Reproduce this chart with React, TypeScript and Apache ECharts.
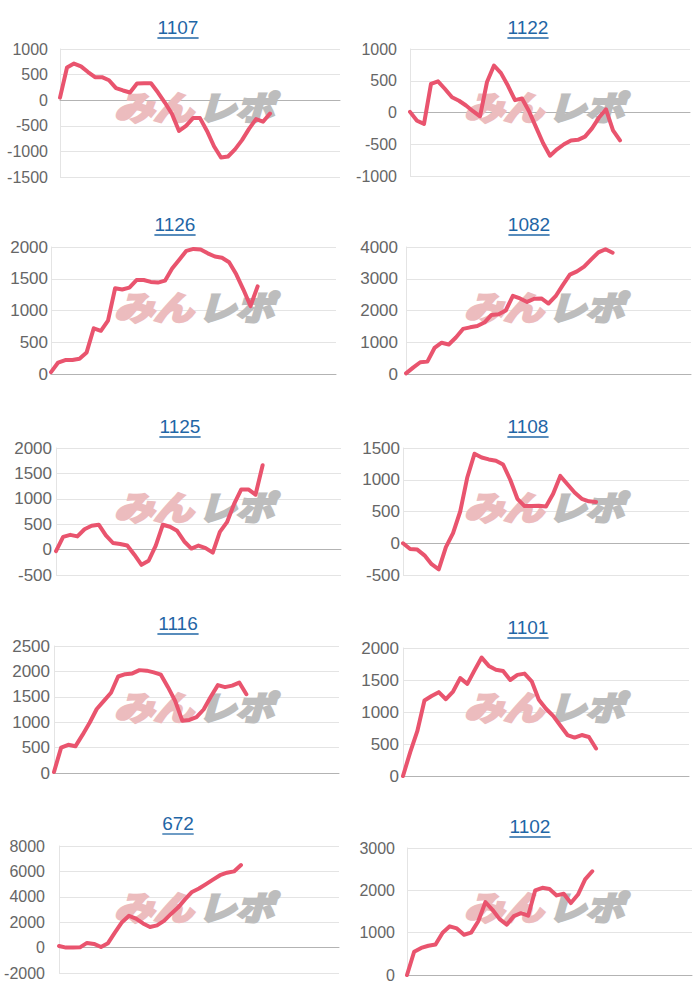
import React, { useEffect, useRef } from "react";
import * as echarts from "echarts";

// ---- data ----
const titles = ["1107", "1122", "1126", "1082", "1125", "1108", "1116", "1101", "672", "1102"];

const s1107 = [50, 640, 715, 660, 550, 450, 450, 390, 235, 190, 150, 325, 330, 330, 150, -50, -270, -600, -500, -350, -350, -600, -900, -1120, -1100, -960, -780, -560, -370, -420, -260];
const s1122 = [10, -130, -180, 450, 490, 370, 240, 185, 110, 20, -60, 480, 740, 620, 420, 195, 220, 20, -230, -480, -680, -580, -500, -440, -430, -380, -250, -80, 50, -280, -440];
const s1126 = [30, 180, 220, 220, 240, 340, 720, 680, 840, 1350, 1330, 1360, 1480, 1480, 1450, 1440, 1470, 1660, 1800, 1940, 1970, 1960, 1900, 1850, 1830, 1760, 1570, 1330, 1070, 1380];
const s1082 = [20, 200, 370, 390, 820, 985, 930, 1150, 1420, 1470, 1510, 1620, 1860, 1880, 2000, 2460, 2380, 2270, 2370, 2380, 2220, 2450, 2800, 3130, 3230, 3380, 3610, 3830, 3930, 3820];
const s1125 = [-30, 250, 290, 260, 400, 470, 490, 280, 130, 110, 80, -100, -300, -220, 80, 490, 450, 370, 160, 20, 80, 30, -60, 350, 540, 900, 1185, 1185, 1080, 1660];
const s1108 = [0, -90, -100, -190, -330, -410, -60, 160, 500, 1040, 1410, 1350, 1320, 1300, 1240, 1000, 700, 585, 585, 590, 580, 780, 1060, 930, 800, 700, 660, 650];
const s1116 = [20, 500, 555, 525, 750, 990, 1260, 1420, 1580, 1900, 1945, 1960, 2025, 2015, 1980, 1935, 1690, 1420, 1030, 1045, 1100, 1250, 1500, 1730, 1690, 1720, 1780, 1550];
const s1101 = [0, 370, 700, 1180, 1250, 1310, 1200, 1320, 1530, 1440, 1650, 1850, 1720, 1660, 1640, 1500, 1580, 1600, 1480, 1190, 1050, 940, 790, 640, 600, 640, 610, 430];
const s672 = [130, 0, 0, 20, 370, 290, 50, 350, 1200, 2000, 2500, 2280, 1900, 1620, 1750, 2100, 2650, 3150, 3800, 4380, 4650, 5000, 5350, 5700, 5900, 6000, 6500];
const s1102 = [0, 550, 640, 690, 720, 1000, 1150, 1100, 950, 1000, 1270, 1720, 1540, 1320, 1190, 1390, 1460, 1400, 2000, 2060, 2030, 1880, 1920, 1700, 1900, 2260, 2450];

const seriesData = [s1107, s1122, s1126, s1082, s1125, s1108, s1116, s1101, s672, s1102];

const yMin = [-1500, -1000, 0, 0, -500, -500, 0, 0, -2000, 0];
const yMax = [1000, 1000, 2000, 4000, 2000, 1500, 2500, 2000, 8000, 3000];
const yStep = [500, 500, 500, 1000, 500, 500, 500, 500, 2000, 1000];

const xSlots = Array.from({ length: 41 }, (_, i) => String(i));

// ---- layout (px) ----
const gridL = [60, 410, 51, 406, 56, 403, 54, 403, 59, 407];
const gridR = [340, 690, 336, 691, 341, 689, 339, 689, 339, 692];
const gridT = [49, 49, 247, 247, 448, 448, 646, 648, 846, 848];
const gridB = [177, 176, 374, 374, 575, 575, 773, 776, 973, 975];
const titleX = [178, 528, 175, 529, 180, 528, 178, 528, 178, 530];
const titleY = [27, 27, 224, 224, 426, 426, 623, 627, 823, 826];
const labelMargin = [12, 13, 3, 8, 4, 3, 4, 4, 14, 12];
const labelSize = [16, 16, 17, 17, 17, 17, 17, 17, 16, 16];
const rowTop = [0, 0, 200, 200, 400, 400, 600, 600, 800, 800];
const colLeft = [0, 350, 0, 350, 0, 350, 0, 350, 0, 350];

const LINE = "#e9546e";
const TITLE = "#1f66a6";
const FONT = "'Liberation Sans', Arial, sans-serif";

export default function App() {
  const ref = useRef<HTMLDivElement>(null);

  useEffect(() => {
    if (!ref.current) return;
    const chart = echarts.init(ref.current, undefined, { renderer: "svg" });

    const grid = seriesData.map((_, i) => ({
      left: gridL[i],
      top: gridT[i],
      width: gridR[i] - gridL[i],
      height: gridB[i] - gridT[i],
      containLabel: false,
    }));

    const xAxis = seriesData.map((_, i) => ({
      type: "category",
      gridIndex: i,
      data: xSlots,
      boundaryGap: false,
      axisLabel: { show: false },
      axisTick: { show: false },
      splitLine: { show: false },
      axisLine: { show: true, onZero: true, lineStyle: { color: "#b3b3b3", width: 1 } },
    }));

    const yAxis = seriesData.map((_, i) => ({
      type: "value",
      gridIndex: i,
      min: yMin[i],
      max: yMax[i],
      interval: yStep[i],
      axisLabel: {
        color: "#666",
        fontSize: labelSize[i],
        fontFamily: FONT,
        margin: labelMargin[i],
        formatter: (v: number) => String(v),
      },
      axisTick: { show: false },
      axisLine: { show: true, lineStyle: { color: "#e4e4e4" } },
      splitLine: { show: true, lineStyle: { color: "#e4e4e4", width: 1 } },
    }));

    const series = seriesData.map((d, i) => ({
      type: "line",
      xAxisIndex: i,
      yAxisIndex: i,
      data: d,
      showSymbol: false,
      symbol: "none",
      z: 5,
      lineStyle: { color: LINE, width: 4, cap: "round", join: "round" },
    }));

    const wmStyle = {
      fontSize: 33,
      fontWeight: "bold",
      fontStyle: "italic",
      fontFamily: "'Noto Sans CJK JP', sans-serif",
      verticalAlign: "middle",
      align: "left",
      lineWidth: 3,
    };

    const graphic: any[] = [];
    titles.forEach((t, i) => {
      const w = t.length * 9.8;
      graphic.push({
        type: "text",
        x: titleX[i],
        y: titleY[i],
        z: 10,
        style: {
          text: t,
          fill: TITLE,
          fontSize: 19,
          fontFamily: FONT,
          align: "center",
          verticalAlign: "middle",
        },
      });
      graphic.push({
        type: "line",
        z: 10,
        shape: { x1: titleX[i] - w / 2 - 1, y1: titleY[i] + 11, x2: titleX[i] + w / 2 + 1, y2: titleY[i] + 11 },
        style: { stroke: TITLE, lineWidth: 1.3 },
      });
      // watermark
      graphic.push({
        type: "text",
        x: colLeft[i] + 114,
        y: rowTop[i] + 106,
        scaleX: 1.2,
        z: 1,
        style: { ...wmStyle, text: "みん", fill: "#ecbcbe", stroke: "#ecbcbe" },
      });
      graphic.push({
        type: "text",
        x: colLeft[i] + 198,
        y: rowTop[i] + 106,
        scaleX: 1.15,
        z: 1,
        style: { ...wmStyle, text: "レポ", fill: "#bdbdbd", stroke: "#bdbdbd" },
      });
    });

    chart.setOption({
      animation: false,
      backgroundColor: "#ffffff",
      grid,
      xAxis,
      yAxis,
      series,
      graphic,
    });

    return () => chart.dispose();
  }, []);

  return (
    <div
      ref={ref}
      style={{ position: "absolute", left: 0, top: 0, width: 700, height: 1000, background: "#fff" }}
    />
  );
}
